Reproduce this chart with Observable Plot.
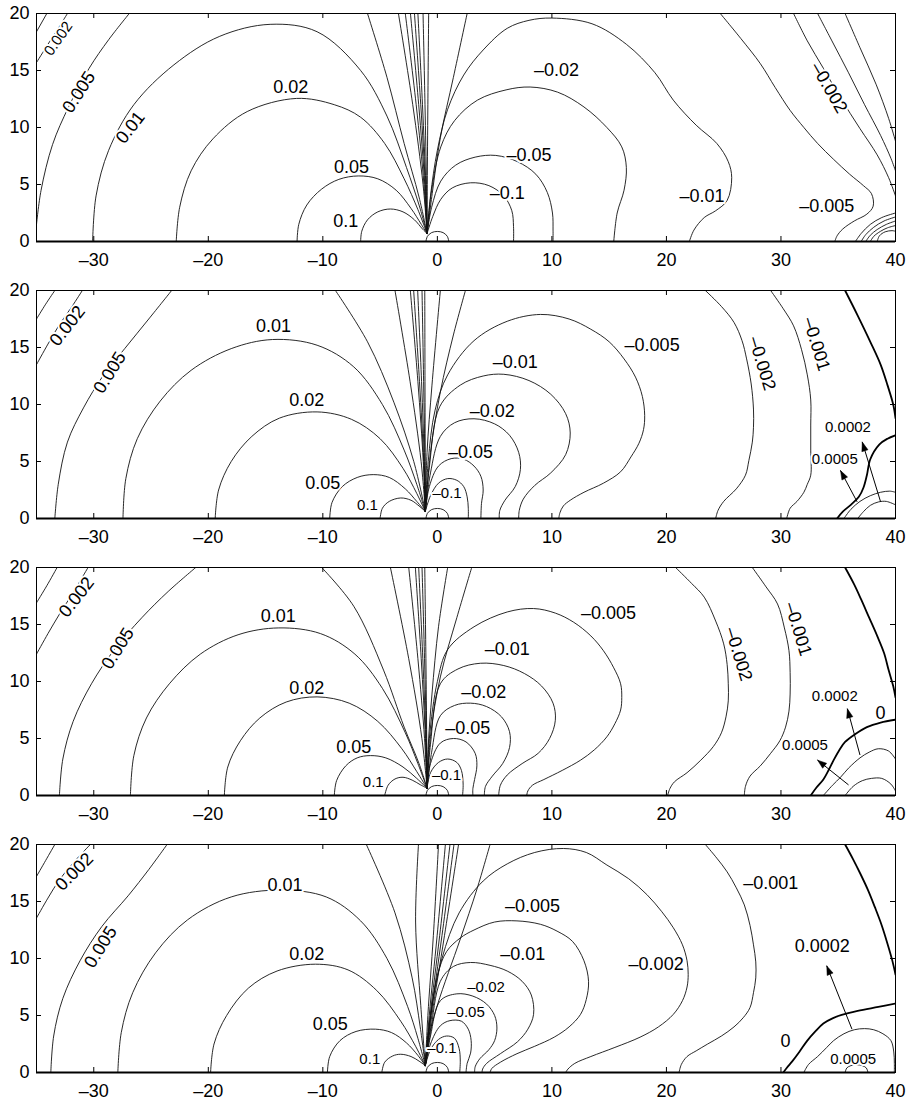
<!DOCTYPE html>
<html><head><meta charset="utf-8">
<script src="https://cdn.jsdelivr.net/npm/d3@7"></script>
<script src="https://cdn.jsdelivr.net/npm/@observablehq/plot@0.6"></script>
<style>
html,body{margin:0;padding:0;background:#fff;overflow:hidden;}
#chart{position:relative;width:906px;height:1102px;}
#chart svg{position:absolute;left:0;}
</style></head><body><div id="chart"></div>
<script>
// ---------- axes ----------
const xTicks = [-30,-20,-10,0,10,20,30,40];
const yTicks = [0,5,10,15,20];
const xDomain = [-35,40];
const yDomain = [0,20];

// ---------- small semicircle at origin (all panels) ----------
const originLoop = [[-1.0,0],[-0.87,0.45],[-0.5,0.78],[0,0.88],[0.5,0.78],[0.87,0.45],[1.0,0]];

// ================= PANEL 1 =================
const p1_pos01   = [[-6.7,0],[-6.6,0.9],[-6.1,1.9],[-5.2,2.6],[-4.1,2.85],[-3.0,2.6],[-2.0,1.9],[-1.3,1.1],[-0.9,0.7]];
const p1_pos005  = [[-12.25,0],[-12.1,1.5],[-11.4,3.2],[-10.1,4.6],[-8.6,5.45],[-6.9,5.75],[-5.2,5.5],[-3.6,4.5],[-2.3,2.9],[-1.4,1.5],[-0.9,0.7]];
const p1_pos002  = [[-22.8,0],[-22.5,3],[-21.5,6.2],[-19.6,9.0],[-16.6,11.4],[-12.3,12.55],[-9.0,12.0],[-6.7,10.9],[-4.6,8.6],[-2.9,5.5],[-1.7,2.8],[-0.9,0.7]];
const p1_pos001  = [[-30.1,0],[-29.8,4],[-28.7,8],[-26.5,12],[-23,15.5],[-19,18],[-14.6,19.05],[-10.5,18.4],[-6.7,15],[-4.4,11],[-2.7,6.5],[-1.6,3.2],[-0.9,0.7]];
const p1_pos0005 = [[-35,1.5],[-34.6,4.5],[-33.6,8.5],[-32.2,11.8],[-30.4,15.2],[-28.7,17.7],[-26.9,20]];
const p1_pos0002 = [[-35,15.7],[-34,17.3],[-33.1,18.7],[-32.3,20]];
const p1_pos0001 = [[-35,18.4],[-34.1,20]];
const p1_neg01   = [[-0.9,0.7],[-0.4,2.2],[0.3,3.7],[1.3,4.7],[2.9,5.15],[4.5,4.9],[5.8,4.0],[6.5,2.7],[6.65,1.3],[6.65,0]];
const p1_neg005  = [[-0.9,0.7],[-0.5,3],[0.3,5.3],[1.6,6.7],[3.3,7.4],[5.1,7.55],[7,7.0],[8.6,5.9],[9.6,4.3],[10.05,2.5],[10.1,1],[10.1,0]];
const p1_neg002  = [[-0.9,0.7],[-0.5,4.5],[0.3,8.3],[1.5,10.6],[3.5,12.4],[6,13.3],[8.1,13.55],[10.5,13.1],[12.8,11.8],[14.8,10],[16.1,8.3],[16.5,6.5],[16.3,4.5],[15.7,2.5],[15.4,0]];
const p1_neg001  = [[-0.9,0.7],[-0.6,4],[0,8],[0.9,11.6],[2.3,14.6],[4,16.8],[6.1,18.7],[8,19.4],[10,19.6],[13.5,19.1],[16.5,17.3],[19,14.8],[20.6,12.4],[22.6,10.2],[24.4,8.6],[25.4,7],[25.7,5.6],[25.3,3.6],[24.3,2.7],[23.3,2.1],[22.4,1.0],[22.0,0]];
const p1_neg0005 = [[24.7,20],[26.5,17.8],[28.2,15.6],[29.5,13.5],[30.8,11.5],[32,10],[33.2,8.6],[34.6,7.2],[36,5.9],[37.2,4.9],[37.9,4.2],[38.05,3.1],[37.5,2.4],[36.4,1.8],[35.4,1.1],[34.9,0.5],[34.7,0]];
const p1_neg0002a = [[31.1,20],[32.3,17.6],[33.7,15.2],[35.2,12.6],[36.9,9.9],[38.4,7.6],[39.4,5.6],[40,4.0]];
const p1_neg0002b = [[33.2,20],[34.5,17.5],[35.9,14.8],[37.3,12],[38.7,9.3],[39.6,7.3],[40,6.2]];
const p1_neg0002c = [[35.6,20],[36.9,17],[38.3,13.8],[39.4,10.8],[40,8.8]];
const p1_edgeA = [[36.5,0],[37,0.7],[37.8,1.5],[38.8,2.1],[40,2.5]];
const p1_edgeB = [[37.0,0],[37.4,0.6],[38.1,1.25],[39,1.8],[40,2.15]];
const p1_edgeC = [[37.4,0],[37.8,0.55],[38.4,1.05],[39.2,1.5],[40,1.8]];
const p1_edgeD = [[37.8,0],[38.1,0.45],[38.7,0.9],[39.3,1.2],[40,1.4]];
const p1_edgeE = [[38.4,0],[38.6,0.5],[39.1,0.85],[39.7,0.95],[40,0.9]];
const p1_fan = [
  [[-0.9,0.7],[-1.6,3.9],[-2.9,8.6],[-4.4,14.4],[-6.1,20]],
  [[-0.9,0.7],[-1.25,5],[-2.15,12],[-3.4,20]],
  [[-0.9,0.7],[-1.17,5],[-1.85,12],[-2.8,20]],
  [[-0.9,0.7],[-1.1,5],[-1.63,12],[-2.35,20]],
  [[-0.9,0.7],[-1.05,5],[-1.45,12],[-2.0,20]],
  [[-0.9,0.7],[-1.01,5],[-1.3,12],[-1.7,20]],
  [[-0.9,0.7],[-0.95,5],[-1.08,12],[-1.25,20]],
  [[-0.9,0.7],[-0.88,5],[-0.83,12],[-0.76,20]],
  [[-0.9,0.7],[-0.45,4.2],[0.26,9.1],[1.4,14.4],[2.6,20]]
];
const p1_labels = [["0.002",-33.1,17.8],["0.005",-31.3,13.1],["0.01",-26.8,10.0],["0.02",-12.8,13.5],["0.05",-7.5,6.5],["0.1",-8.0,1.8],
  ["–0.02",10.4,15.0],["–0.05",8.0,7.6],["–0.1",6.1,4.2],["–0.01",23.1,4.0],["–0.005",34.0,3.1],["–0.002",34.2,13.5]];
const p1_arrows = [];

// ================= PANEL 2 =================
const p2_pos01   = [[-5,0],[-4.8,0.9],[-4.2,1.5],[-3.2,1.8],[-2.3,1.6],[-1.6,1.1],[-1.05,0.62]];
const p2_pos005  = [[-9.4,0],[-9.2,1.4],[-8.3,2.8],[-7,3.6],[-5.6,3.85],[-4.2,3.6],[-2.8,2.6],[-1.8,1.5],[-1.05,0.62]];
const p2_pos002  = [[-19.4,0],[-19.1,2.5],[-18,5],[-16.2,7.2],[-13.8,8.8],[-10.5,9.35],[-7.5,8.7],[-5,7],[-3,4.4],[-1.8,2.2],[-1.05,0.62]];
const p2_pos001  = [[-27.45,0],[-27.2,3.5],[-26.2,7],[-24.2,10.3],[-21.5,13],[-18,14.9],[-14.4,15.7],[-10.5,15.2],[-7.3,13.3],[-4.8,10],[-2.9,6],[-1.8,3],[-1.05,0.62]];
const p2_pos0005 = [[-33.4,0],[-33.1,3],[-32.3,6.7],[-30.9,9.7],[-29.2,12.5],[-27.3,14.9],[-25.2,17.5],[-23.2,20]];
const p2_pos0002 = [[-35,13.5],[-34,15.3],[-33,17],[-31.9,18.6],[-31,20]];
const p2_pos0001 = [[-35,17.5],[-34.2,18.8],[-33.4,20]];
const p2_neg01   = [[-1.05,0.62],[-0.6,2.0],[0.1,3.1],[0.9,3.5],[1.7,3.35],[2.3,2.8],[2.6,1.9],[2.7,0.9],[2.7,0]];
const p2_neg005  = [[-1.05,0.62],[-0.7,2.8],[0.1,4.6],[1.2,5.25],[2.3,5.2],[3.2,4.6],[3.8,3.7],[4.0,2.5],[3.85,1.3],[3.8,0]];
const p2_neg002  = [[-1.05,0.62],[-0.6,4],[0.26,7.2],[1.5,8.4],[3.2,8.75],[5,8.3],[6.3,7.3],[7.1,5.8],[7.25,4.3],[6.8,2.8],[5.9,1.6],[5.45,0.7],[5.4,0]];
const p2_neg001  = [[-1.05,0.62],[-0.7,4.5],[0.2,9.8],[2,11.7],[4,12.5],[5.8,12.65],[8,12.1],[9.9,10.9],[11.2,9.2],[11.6,7.5],[11.2,5.6],[9.9,4.0],[8.5,2.9],[7.5,1.7],[7.15,0.7],[7.1,0]];
const p2_neg0005 = [[-1.05,0.62],[-0.8,5],[-0.2,9.5],[0.9,12.6],[3.2,15.6],[6.1,17.3],[9,17.9],[11.5,17.5],[13.4,16.6],[15,15.5],[16.3,14],[17.3,12.4],[17.9,10.7],[18.1,9.05],[18,7.8],[17.6,6.6],[16.9,5.4],[16,4.1],[14.5,3.1],[12.8,2.3],[11.6,1.6],[11,1.1],[10.7,0.5],[10.6,0]];
const p2_neg0002 = [[23.4,20],[24.8,18.6],[25.9,17.2],[26.6,15.6],[27,14],[27.4,11.8],[27.6,9.6],[27.6,8],[27.5,6.7],[27.2,5.1],[26.9,3.8],[26.1,2.6],[25,1.5],[24.5,0.7],[24.3,0]];
const p2_neg0001 = [[29.1,20],[30.2,18.4],[31.1,16.9],[31.8,14.8],[32.3,12.6],[32.6,10.4],[32.6,8.2],[32.6,6],[32.6,3.8],[32.3,3],[32,2.3],[31.4,1.5],[30.8,0.9],[30.5,0]];
const p2_zeroTop = [[35.6,20],[36.7,17.8],[37.8,15.5],[38.7,13.5],[39.3,11.7],[39.8,10],[40,8.8]];
const p2_zeroLow = [[34.9,0],[35.4,0.6],[36.1,1.2],[36.8,1.9],[37.2,2.7],[37.5,3.8],[37.8,5.2],[38.6,6.5],[39.3,7.0],[40,7.3]];
const p2_pos00005 = [[35.5,0],[36.1,0.8],[36.9,1.5],[37.8,2.0],[38.7,2.3],[39.5,2.4],[40,2.3]];
const p2_pos00002 = [[36.7,0],[37.2,0.6],[37.8,1.15],[38.5,1.45],[39.2,1.5],[40,1.2]];
const p2_fan = [
  [[-1.05,0.62],[-2.06,5],[-3.8,10.2],[-6.1,15.5],[-8.9,20]],
  [[-1.05,0.62],[-1.42,5],[-2.38,12],[-3.7,20]],
  [[-1.05,0.62],[-1.23,5],[-1.7,12],[-2.36,20]],
  [[-1.05,0.62],[-1.19,5],[-1.56,12],[-2.07,20]],
  [[-1.05,0.62],[-1.14,5],[-1.38,12],[-1.72,20]],
  [[-1.05,0.62],[-1.09,5],[-1.2,12],[-1.34,20]],
  [[-1.05,0.62],[-1.06,5],[-1.08,12],[-1.1,20]],
  [[-1.05,0.62],[-0.9,5.8],[-0.47,11.7],[0.26,20]],
  [[-1.05,0.62],[-0.6,5.8],[0.26,11.1],[1.4,16.1],[2.45,20]]
];
const p2_labels = [["0.002",-32.3,16.9],["0.005",-28.6,12.8],["0.01",-14.3,16.9],["0.02",-11.4,10.4],["0.05",-10.0,3.1],["0.1",-6.1,1.2],
  ["–0.1",0.85,2.2],["–0.05",2.9,5.85],["–0.02",4.8,9.4],["–0.01",6.8,13.7],["–0.005",18.75,15.2],["–0.002",28.35,13.6],["–0.001",33.1,15.3],
  ["0.0002",35.85,8.0],["0.0005",34.7,5.2]];
const p2_arrows = [[36.65,1.46,35.2,4.2],[38.7,1.46,37.1,6.7]];

// ================= PANEL 3 =================
const p3_pos01   = [[-4.6,0],[-4.3,0.9],[-3.7,1.45],[-3.0,1.6],[-2.2,1.35],[-1.5,0.95],[-0.9,0.64]];
const p3_pos005  = [[-9,0],[-8.8,1.3],[-8,2.6],[-7,3.3],[-5.85,3.5],[-4.5,3.3],[-3,2.5],[-1.8,1.5],[-0.9,0.64]];
const p3_pos002  = [[-18.6,0],[-18.3,2.5],[-17.2,4.8],[-15.5,6.8],[-13.2,8.2],[-10.5,8.65],[-7.7,8.1],[-5.2,6.5],[-3.1,4.1],[-1.8,2.1],[-0.9,0.64]];
const p3_pos001  = [[-26.8,0],[-26.5,3.5],[-25.4,6.8],[-23.4,9.8],[-20.7,12.4],[-17.4,14.1],[-13.85,14.7],[-10.2,14.2],[-7.2,12.4],[-4.8,9.4],[-2.8,5.5],[-1.7,2.8],[-0.9,0.64]];
const p3_pos0005 = [[-33,0],[-32.7,3.2],[-31.8,6.5],[-30.2,9.8],[-28.2,12.8],[-25.8,15.6],[-23.5,17.9],[-21.1,20]];
const p3_pos0002 = [[-35,12.4],[-34,14.2],[-33,15.9],[-31.8,17.8],[-30.5,20]];
const p3_pos0001 = [[-35,16.9],[-34.1,18.4],[-33.2,20]];
const p3_neg01   = [[-0.9,0.64],[-0.6,2.0],[0.1,2.9],[0.9,3.2],[1.7,2.9],[2.1,2.2],[2.25,1],[2.2,0]];
const p3_neg005  = [[-0.9,0.64],[-0.6,2.8],[0.26,4.6],[1.4,5.0],[2.5,4.7],[3.3,3.7],[3.45,2.6],[3.25,1.4],[3.1,0.6],[3.1,0]];
const p3_neg002  = [[-0.9,0.64],[-0.5,3.8],[0.26,7.0],[1.5,7.9],[2.9,8.1],[4.3,7.8],[5.6,6.9],[6.3,5.6],[6.3,4.2],[5.7,2.8],[4.8,1.7],[4.2,0.8],[4.1,0]];
const p3_neg001  = [[-0.9,0.64],[-0.6,4.5],[0.26,9.8],[1.8,11.1],[3.75,11.6],[5.8,11.4],[7.6,10.7],[9.1,9.6],[10.1,8.1],[10.3,6.6],[9.8,5],[8.8,3.7],[7.4,2.8],[6.1,1.8],[5.5,0.9],[5.35,0]];
const p3_neg0005 = [[-0.9,0.64],[-0.7,5],[0,10],[0.9,12.8],[3.2,14.8],[6.1,16.1],[8.4,16.4],[10.3,16],[11.9,15.2],[13.4,14],[14.5,12.7],[15.4,11.2],[16,9.8],[16.1,8.6],[16,7.5],[15.5,6.3],[14.8,5.15],[13.7,4.0],[12.5,3.1],[10.9,2.2],[9.3,1.4],[8.3,0.9],[7.9,0.4],[7.8,0]];
const p3_neg0002 = [[20.8,20],[22.2,18.6],[23.3,17.4],[24.3,15.3],[25,13.3],[25.3,11.5],[25.4,9.8],[25.4,8.3],[25.2,6.9],[24.8,5.5],[24.1,4.3],[23,3.1],[21.8,2],[20.7,1.2],[20.3,0.6],[20.1,0]];
const p3_neg0001 = [[27.5,20],[28.7,18.3],[29.7,16.8],[30.3,14.7],[30.7,12.7],[30.8,10.8],[30.8,8.9],[30.7,7.4],[30.4,6.0],[29.9,4.8],[29.1,3.7],[28.2,2.6],[27.3,1.7],[26.9,0.8],[26.8,0]];
const p3_zeroTop = [[35.6,20],[36.4,18.5],[37,17.2],[37.7,15.6],[38.4,14],[39,12.5],[39.4,11],[39.8,9.6],[40,8.6]];
const p3_zeroLow = [[32.6,0],[33.1,0.7],[33.7,1.4],[34.2,2.3],[34.6,3.1],[35.1,4.0],[35.6,4.7],[36.5,5.4],[37.5,6.0],[38.7,6.4],[40,6.65]];
const p3_pos00002 = [[33.7,0],[34.5,0.9],[35.2,1.6],[35.9,2.4],[36.9,3.3],[37.7,3.8],[38.5,4.1],[39.4,3.9],[40,3.2]];
const p3_pos00005 = [[35.6,0],[36.3,0.8],[37.1,1.3],[37.9,1.5],[38.8,1.5],[39.6,1.0],[40,0.4]];
const p3_fan = [
  [[-0.9,0.64],[-1.6,2.8],[-2.9,6],[-4.7,11],[-7.3,16.6],[-10.1,20]],
  [[-0.9,0.64],[-1.35,5],[-2.5,12],[-4.1,20]],
  [[-0.9,0.64],[-1.12,5],[-1.7,12],[-2.5,20]],
  [[-0.9,0.64],[-1.04,5],[-1.41,12],[-1.92,20]],
  [[-0.9,0.64],[-1.0,5],[-1.27,12],[-1.63,20]],
  [[-0.9,0.64],[-0.96,5],[-1.12,12],[-1.34,20]],
  [[-0.9,0.64],[-0.93,5],[-1.0,12],[-1.1,20]],
  [[-0.9,0.64],[-0.8,4.3],[-0.47,8.9],[0.1,14.8],[0.9,20]],
  [[-0.9,0.64],[-0.6,5.2],[0.26,10.4],[1.7,15.6],[3.0,20]]
];
const p3_labels = [["0.002",-31.5,17.4],["0.005",-27.9,12.9],["0.01",-13.9,15.7],["0.02",-11.4,9.4],["0.05",-7.3,4.2],["0.1",-5.6,1.2],
  ["–0.1",0.8,1.8],["–0.05",2.65,5.9],["–0.02",4.05,9.1],["–0.01",6.1,12.8],["–0.005",14.95,16.0],["–0.002",26.3,12.4],["–0.001",31.5,14.6],
  ["0.0002",34.7,8.7],["0",38.7,7.2],["0.0005",32.1,4.4]];
const p3_arrows = [[36.9,3.55,35.8,7.6],[35.9,0.93,33.2,3.1]];

// ================= PANEL 4 =================
const p4_pos01   = [[-4.85,0],[-4.6,0.9],[-3.9,1.45],[-3.2,1.6],[-2.3,1.4],[-1.6,1.0],[-1.05,0.6]];
const p4_pos005  = [[-9.6,0],[-9.4,1.4],[-8.5,2.8],[-7.1,3.6],[-5.4,3.8],[-4,3.5],[-2.7,2.6],[-1.7,1.5],[-1.05,0.6]];
const p4_pos002  = [[-19.8,0],[-19.5,2.5],[-18.4,5],[-16.5,7.4],[-14,8.9],[-10.65,9.5],[-7.8,9],[-5.3,7.2],[-3.2,4.5],[-1.9,2.3],[-1.05,0.6]];
const p4_pos001  = [[-27.9,0],[-27.6,3.5],[-26.6,7],[-24.6,10.5],[-21.8,13.4],[-18,15.4],[-13.7,16],[-9.7,15.4],[-6.7,13.3],[-4.4,10],[-2.6,5.8],[-1.7,3],[-1.05,0.6]];
const p4_pos0005 = [[-33.75,0],[-33.5,3.2],[-32.7,6.5],[-31.2,9.8],[-29.3,12.8],[-27,15.5],[-25.2,17.8],[-23.6,20]];
const p4_pos0002 = [[-35,13.55],[-34,15.3],[-33,16.9],[-31.7,18.5],[-30.3,20]];
const p4_pos0001 = [[-35,17.2],[-34.2,18.6],[-33.4,20]];
const p4_neg01   = [[-1.05,0.6],[-0.6,2.0],[0.1,2.9],[0.8,3.2],[1.5,3.0],[1.9,2.1],[2.0,1.0],[1.95,0]];
const p4_neg005  = [[-1.05,0.6],[-0.6,2.5],[0.26,4.1],[1.1,4.55],[2.1,4.5],[2.7,3.8],[2.95,2.8],[2.9,1.7],[2.6,0.8],[2.5,0]];
const p4_neg002  = [[-1.05,0.6],[-0.6,3.2],[0.26,6.3],[1.7,6.9],[3.1,6.7],[4.3,6.0],[5.0,5.0],[5.2,3.9],[5.0,2.8],[4.5,2.0],[3.7,1.2],[3.3,0.5],[3.25,0]];
const p4_neg001  = [[-1.05,0.6],[-0.6,3.5],[0.26,8.0],[1.4,9.3],[2.9,9.65],[4.6,9.4],[6.1,8.9],[7.4,8.0],[8.2,6.8],[8.4,5.1],[7.9,3.8],[7,2.7],[5.5,1.65],[4.3,0.8],[3.95,0.3],[3.9,0]];
const p4_neg0005 = [[-1.05,0.6],[-0.7,4],[0,8.5],[0.8,10.6],[2,11.8],[3.2,12.5],[5,13.2],[6.95,13.3],[9,13],[10.45,12.4],[11.8,11.5],[12.8,9.8],[13.2,8.0],[13,6.4],[12.5,5.1],[11.5,4],[10.2,3.1],[8.5,2.3],[6.95,1.65],[5.5,0.9],[4.75,0.35],[4.6,0]];
const p4_neg0002 = [[-1.05,0.6],[-0.6,5],[0.4,10],[1.9,14],[4,16.8],[6.1,18.3],[8.5,19.3],[11,19.65],[13,19.3],[14.8,18.2],[16.7,17],[18.3,15.6],[19.6,14.1],[20.6,12.7],[21.4,11.2],[21.8,9.8],[21.9,8.6],[21.8,7.5],[21.4,6.3],[20.6,5.1],[19.3,4],[17.7,3.1],[15.5,2.2],[13.4,1.4],[12,0.8],[11.4,0.3],[11.2,0]];
const p4_neg0001 = [[23.4,20],[24.4,18.8],[25.3,17.6],[26.1,16.2],[26.8,14.7],[27.3,12.9],[27.6,11.2],[27.8,9.7],[27.8,8.3],[27.6,7],[27.3,5.7],[26.7,4.8],[25.9,4.0],[24.8,3.2],[23.6,2.5],[22.6,1.9],[21.8,1.4],[21.3,0.7],[21.1,0]];
const p4_zeroTop = [[35.6,20],[36.3,18.7],[36.9,17.5],[37.6,16],[38.2,14.5],[38.8,12.9],[39.3,11.3],[39.7,9.9],[40,8.6]];
const p4_zeroLow = [[30.2,0],[30.5,0.4],[31,1.0],[31.6,1.8],[32.3,2.8],[33,3.6],[33.7,4.3],[34.5,4.75],[35.3,5.05],[36.7,5.4],[38.5,5.75],[40,6.05]];
const p4_pos00002 = [[32,0],[32.4,0.7],[33.2,1.4],[34,2.2],[34.6,2.8],[35.5,3.4],[36.4,3.75],[37.3,3.85],[38.1,3.75],[38.9,3.4],[39.6,2.8],[39.85,1.8],[39.9,0.8],[39.9,0]];
const p4_pos00005 = [[35.6,0],[35.75,0.4],[36.1,0.6],[36.6,0.68],[37.1,0.6],[37.45,0.4],[37.6,0]];
const p4_fan = [
  [[-1.05,0.6],[-1.5,4],[-2.2,8.3],[-3.7,14],[-6.2,20]],
  [[-1.05,0.6],[-1.45,5.9],[-1.9,13.2],[-1.65,20]],
  [[-1.05,0.6],[-0.83,5],[-0.35,12],[0.1,20]],
  [[-1.05,0.6],[-0.71,5],[-0.02,12],[0.7,20]],
  [[-1.05,0.6],[-0.63,5],[0.2,12],[1.1,20]],
  [[-1.05,0.6],[-0.56,5],[0.4,12],[1.45,20]],
  [[-1.05,0.6],[-0.48,5],[0.62,12],[1.85,20]],
  [[-1.05,0.6],[-0.9,2.4],[0,5.9],[2.0,11.7],[3.46,16.1],[4.6,20]]
];
const p4_labels = [["0.002",-31.7,17.6],["0.005",-29.4,11.0],["0.01",-13.3,16.4],["0.02",-11.4,10.4],["0.05",-9.35,4.2],["0.1",-5.9,1.2],
  ["–0.1",0.4,2.1],["–0.05",2.5,5.3],["–0.02",4.25,7.5],["–0.01",7.45,10.4],["–0.005",8.3,14.6],["–0.002",19.1,9.5],["–0.001",29.1,16.6],
  ["0.0002",33.6,11.1],["0",30.4,2.7],["0.0005",36.3,1.2]];
const p4_arrows = [[36.2,3.8,34.0,9.35]];

// ---------- label styling (rotation in degrees, small font set) ----------
const p1_rot = {"0.002":-55,"0.005":-57,"0.01":-52,"–0.002":60};
const p2_rot = {"0.002":-52,"0.005":-58,"–0.002":73,"–0.001":73};
const p3_rot = {"0.002":-52,"0.005":-58,"–0.002":73,"–0.001":73};
const p4_rot = {"0.002":-45,"0.005":-58};
const p1_small = ["0.002"];
const p2_small = ["0.1","–0.1","0.0002","0.0005"];
const p3_small = ["0.1","–0.1","0.0002","0.0005"];
const p4_small = ["0.1","–0.1","–0.05","–0.02","0.0005"];

// ---------- rendering ----------
const W = 906, ML = 36, MR = 11, MT = 10, MB = 40, PH = 228;
const plotTops = [13, 290, 567, 844];
const fmt = d => d < 0 ? "–" + Math.abs(d) : String(d);
const kx = (W - ML - MR) / (xDomain[1] - xDomain[0]);
const ky = PH / (yDomain[1] - yDomain[0]);

function headTri(a) {
  const [x1, y1, x2, y2] = a;
  const dx = (x2 - x1) * kx, dy = (y2 - y1) * ky;
  const L = Math.hypot(dx, dy), ux = dx / L, uy = dy / L;
  const len = 9, hw = 3.2;
  const p = (ox, oy) => [x2 + ox / kx, y2 + oy / ky];
  return [p(0, 0), p(-ux * len - uy * hw, -uy * len + ux * hw), p(-ux * len + uy * hw, -uy * len - ux * hw), p(0, 0)];
}

function drawPanel(idx, thin, bold, fan, labels, rot, small, arrows) {
  const lineOpts = {x: d => d[0], y: d => d[1], curve: "catmull-rom", stroke: "#111", strokeWidth: 0.9, clip: true};
  const boldOpts = {...lineOpts, strokeWidth: 1.8, stroke: "#000"};
  const marks = [];
  for (const a of [...thin, ...fan, originLoop]) marks.push(Plot.line(a, lineOpts));
  for (const a of bold) marks.push(Plot.line(a, boldOpts));
  if (arrows.length) {
    marks.push(Plot.link(arrows, {x1: d => d[0], y1: d => d[1], x2: d => d[2], y2: d => d[3], stroke: "#000", strokeWidth: 1}));
    for (const a of arrows) marks.push(Plot.line(headTri(a), {x: d => d[0], y: d => d[1], fill: "#000", stroke: "#000", strokeWidth: 0.5}));
  }
  marks.push(Plot.text(labels, {
    x: d => d[1], y: d => d[2], text: d => d[0],
    rotate: d => rot[d[0]] || 0,
    fontSize: d => small.includes(d[0]) ? 15 : 18,
    fill: "#000", stroke: "#fff", strokeWidth: 4, paintOrder: "stroke"
  }));
  // frame and inward ticks
  marks.push(Plot.frame({stroke: "#000", strokeWidth: 1}));
  marks.push(Plot.ruleY([0], {stroke: "#000", strokeWidth: 2}));
  marks.push(Plot.ruleX(xTicks, {x: d => d, y1: () => yDomain[0], y2: () => yDomain[0], insetBottom: 5, stroke: "#000"}));
  marks.push(Plot.ruleX(xTicks, {x: d => d, y1: () => yDomain[1], y2: () => yDomain[1], insetBottom: -5, stroke: "#000"}));
  marks.push(Plot.ruleY(yTicks, {y: d => d, x1: () => xDomain[0], x2: () => xDomain[0], insetRight: -5, stroke: "#000"}));
  marks.push(Plot.ruleY(yTicks, {y: d => d, x1: () => xDomain[1], x2: () => xDomain[1], insetRight: 5, stroke: "#000"}));
  marks.push(Plot.axisX(xTicks, {anchor: "bottom", tickSize: 0, tickPadding: 12, tickFormat: fmt, fontSize: 18}));
  marks.push(Plot.axisY(yTicks, {anchor: "left", tickSize: 0, tickPadding: 7, tickFormat: fmt, fontSize: 18}));

  const svg = Plot.plot({
    width: W, height: PH + MT + MB,
    marginLeft: ML, marginRight: MR, marginTop: MT, marginBottom: MB,
    x: {domain: xDomain, axis: null},
    y: {domain: yDomain, axis: null},
    style: {fontFamily: "'Liberation Sans', Arial, sans-serif", fontSize: "18px", color: "#000", background: "transparent", overflow: "visible"},
    marks
  });
  svg.style.top = (plotTops[idx] - MT) + "px";
  document.getElementById("chart").appendChild(svg);
}

drawPanel(0,
  [p1_pos01,p1_pos005,p1_pos002,p1_pos001,p1_pos0005,p1_pos0002,p1_pos0001,p1_neg01,p1_neg005,p1_neg002,p1_neg001,p1_neg0005,p1_neg0002a,p1_neg0002b,p1_neg0002c,p1_edgeA,p1_edgeB,p1_edgeC,p1_edgeD,p1_edgeE],
  [], p1_fan, p1_labels, p1_rot, p1_small, p1_arrows);
drawPanel(1,
  [p2_pos01,p2_pos005,p2_pos002,p2_pos001,p2_pos0005,p2_pos0002,p2_pos0001,p2_neg01,p2_neg005,p2_neg002,p2_neg001,p2_neg0005,p2_neg0002,p2_neg0001,p2_pos00005,p2_pos00002],
  [p2_zeroTop,p2_zeroLow], p2_fan, p2_labels, p2_rot, p2_small, p2_arrows);
drawPanel(2,
  [p3_pos01,p3_pos005,p3_pos002,p3_pos001,p3_pos0005,p3_pos0002,p3_pos0001,p3_neg01,p3_neg005,p3_neg002,p3_neg001,p3_neg0005,p3_neg0002,p3_neg0001,p3_pos00002,p3_pos00005],
  [p3_zeroTop,p3_zeroLow], p3_fan, p3_labels, p3_rot, p3_small, p3_arrows);
drawPanel(3,
  [p4_pos01,p4_pos005,p4_pos002,p4_pos001,p4_pos0005,p4_pos0002,p4_pos0001,p4_neg01,p4_neg005,p4_neg002,p4_neg001,p4_neg0005,p4_neg0002,p4_neg0001,p4_pos00002,p4_pos00005],
  [p4_zeroTop,p4_zeroLow], p4_fan, p4_labels, p4_rot, p4_small, p4_arrows);
</script>
</body></html>
